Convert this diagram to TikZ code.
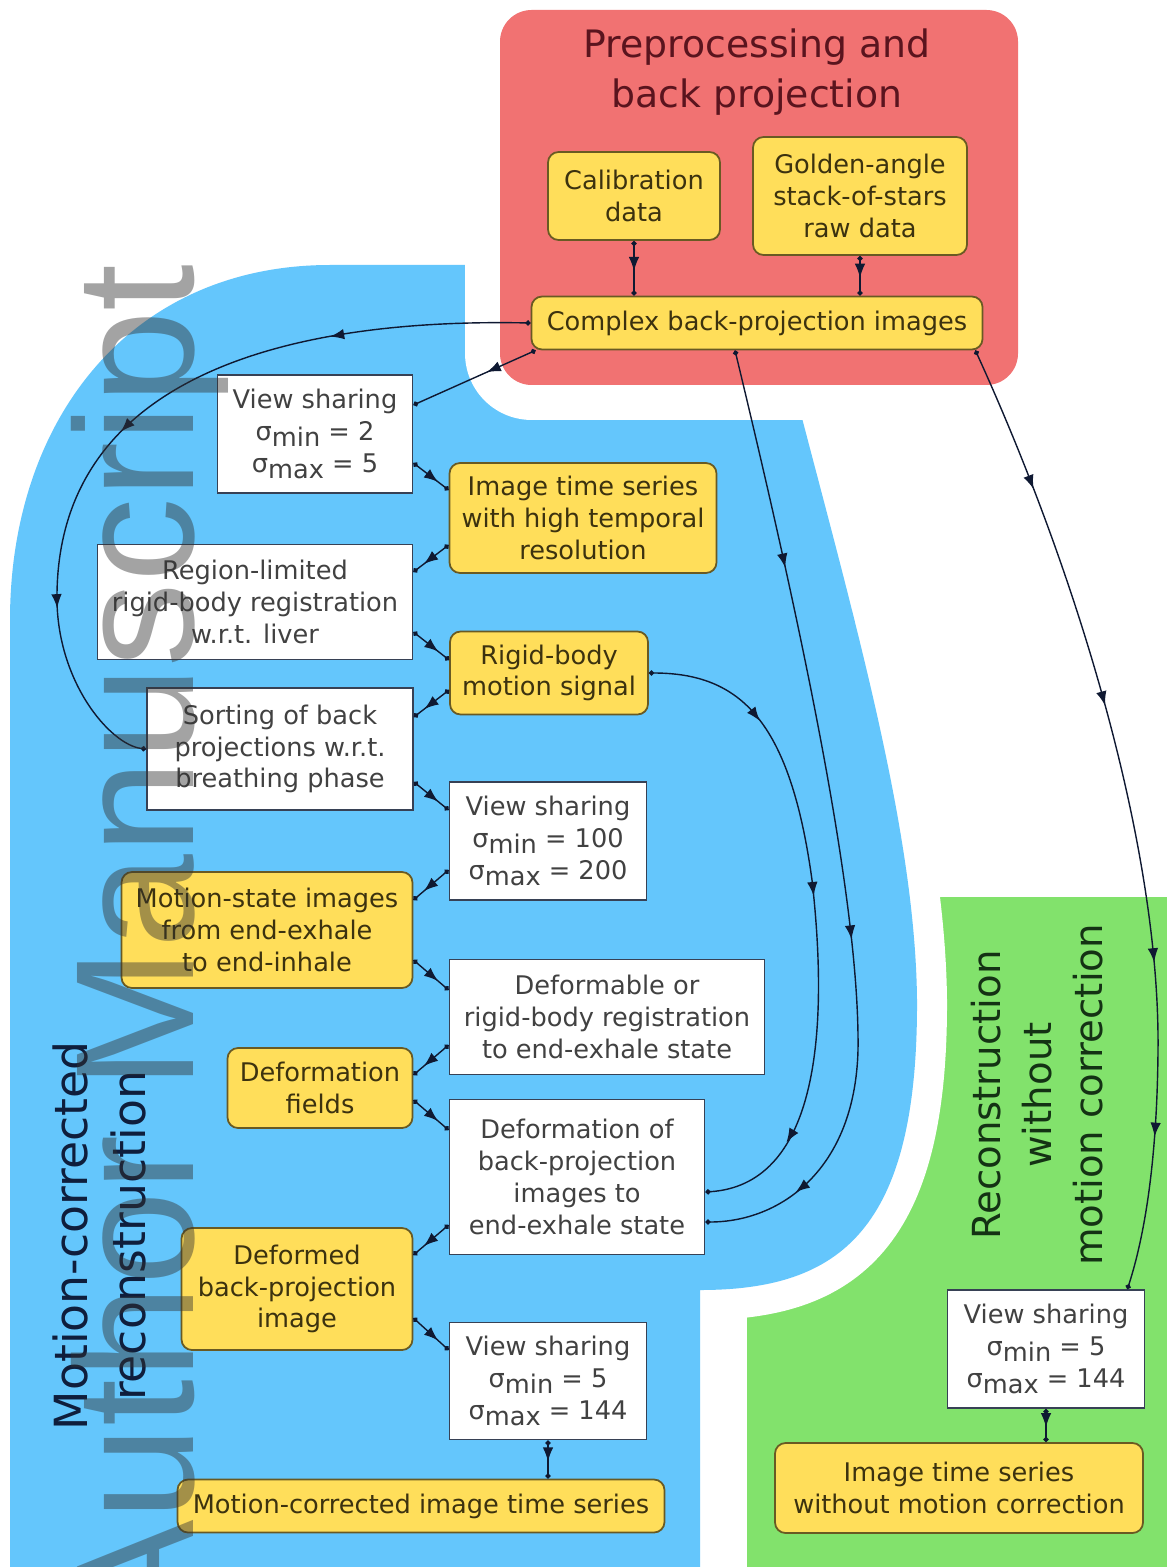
\documentclass[tikz,border=0pt]{standalone}
\usepackage{fontspec}
\setmainfont{DejaVu Sans}
\newfontfamily\wmfont{Liberation Sans}
\usetikzlibrary{arrows.meta,calc,decorations.markings}

\definecolor{regred}{RGB}{241,114,114}
\definecolor{regblue}{RGB}{100,198,252}
\definecolor{reggreen}{RGB}{130,226,108}
\definecolor{boxyellow}{RGB}{255,222,90}
\definecolor{yellowline}{RGB}{105,90,35}
\definecolor{whiteline}{RGB}{55,65,85}
\definecolor{ytext}{RGB}{60,50,15}
\definecolor{wtext}{RGB}{65,65,65}
\definecolor{arrowcol}{RGB}{15,25,50}

\newcommand{\boxfont}{\fontsize{14.6}{18.1}\selectfont}
\newcommand{\sgm}[1]{σ\raisebox{-0.4ex}{#1}}

\tikzset{
  sz/.style 2 args={minimum width=#1*0.02cm, minimum height=#2*0.02cm},
  ybox/.style={draw=yellowline, fill=boxyellow, line width=1pt, rounded corners=6pt,
    align=center, inner sep=0pt, text=ytext, font=\boxfont},
  wbox/.style={draw=whiteline, fill=white, line width=1pt,
    align=center, inner sep=0pt, text=wtext, font=\boxfont},
  flow/.style={draw=arrowcol, line width=0.8pt, {Circle[length=3pt]}-{Circle[length=3pt]}},
  midarrow/.style={postaction={decorate, decoration={markings,
    mark=at position #1 with {\arrow{Latex[length=8pt,width=6pt]}}}}},
}

\begin{document}
\begin{tikzpicture}[x=0.02cm, y=-0.02cm]

% Page frame
\useasboundingbox (0,0) rectangle (1167,1567);
\clip (0,0) rectangle (1167,1567);

% Parameters
\def\bluegap{1.2cm}
\def\redgap{1.4cm}

% Regions
\fill[reggreen] (747,897) rectangle (1167,1567);
\fill[regblue, preaction={draw=white, line width=\bluegap, line join=round}]
  (10,1590) -- (10,620) .. controls (10,420) and (130,265) .. (330,265)
  -- (763,265) .. controls (830,540) and (915,800) .. (917,1000)
  .. controls (918,1230) and (840,1290) .. (700,1290) -- (700,1590) -- cycle;
\fill[regred, rounded corners=18pt, preaction={draw=white, line width=\redgap, line join=round}]
  (500,10) rectangle (1018,385);

% Titles
\node[align=center, text={rgb,255:red,90;green,20;blue,30}, font=\fontsize{21.5}{28.3}\selectfont]
  (pretitle) at (757,72) {Preprocessing and\\back projection};
\node[rotate=90, align=center, text={rgb,255:red,15;green,30;blue,60}, font=\fontsize{26}{33}\selectfont]
  (mctitle) at (99,1236) {Motion-corrected\\reconstruction};
\node[rotate=90, align=center, text={rgb,255:red,20;green,50;blue,20}, font=\fontsize{22}{29}\selectfont]
  (nomctitle) at (1037,1095) {Reconstruction\\without\\motion correction};

% Preprocessing
\node[ybox, sz={172}{88}] (calib) at (634,196) {Calibration\\data};
\node[ybox, sz={214}{118}] (golden) at (860,196) {Golden-angle\\stack-of-stars\\raw data};
\node[ybox, sz={451}{53}] (complex) at (757,323) {Complex back-projection images};

% Motion-corrected reconstruction
\node[wbox, sz={195}{118}] (vs1) at (315,434) {View sharing\\\sgm{min} = 2\\\sgm{max} = 5};
\node[ybox, sz={267}{110}] (its) at (583,518) {Image time series\\with high temporal\\resolution};
\node[wbox, sz={315}{115}] (reg) at (255,602) {Region-limited\\rigid-body registration\\w.r.t. liver};
\node[ybox, sz={198}{83}] (rbs) at (549,673) {Rigid-body\\motion signal};
\node[wbox, sz={266}{122}] (sort) at (280,749) {Sorting of back\\projections w.r.t.\\breathing phase};
\node[wbox, sz={197}{118}] (vs2) at (548,841) {View sharing\\\sgm{min} = 100\\\sgm{max} = 200};
\node[ybox, sz={291}{116}] (mstate) at (267,930) {Motion-state images\\from end-exhale\\to end-inhale};
\node[wbox, sz={315}{115}] (defreg) at (607,1017) {Deformable or\\rigid-body registration\\to end-exhale state};
\node[ybox, sz={185}{80}] (dfield) at (320,1088) {Deformation\\fields};
\node[wbox, sz={255}{155}] (deform) at (577,1177) {Deformation of\\back-projection\\images to\\end-exhale state};
\node[ybox, sz={231}{122}] (defimg) at (297,1289) {Deformed\\back-projection\\image};
\node[wbox, sz={197}{117}] (vs3) at (548,1381) {View sharing\\\sgm{min} = 5\\\sgm{max} = 144};
\node[ybox, sz={487}{53}] (mcseries) at (421,1506) {Motion-corrected image time series};

% Reconstruction without motion correction
\node[wbox, sz={197}{118}] (vs4) at (1046,1349) {View sharing\\\sgm{min} = 5\\\sgm{max} = 144};
\node[ybox, sz={368}{90}] (plain) at (959,1488) {Image time series\\without motion correction};

% Short connectors
\draw[flow, midarrow=0.55] (calib.south) -- (calib.south |- complex.north);
\draw[flow, midarrow=0.55] (golden.south) -- (golden.south |- complex.north);
\draw[flow, midarrow=0.4] ($(complex.south west)+(5,0)$) -- ($(vs1.east)+(0,-29)$);
\draw[flow, midarrow=0.7] ($(vs1.east)+(0,29)$) -- ($(its.west)+(0,-28)$);
\draw[flow, midarrow=0.7] ($(its.west)+(0,27)$) -- ($(reg.east)+(0,-30)$);
\draw[flow, midarrow=0.7] ($(reg.east)+(0,30)$) -- ($(rbs.west)+(0,-13)$);
\draw[flow, midarrow=0.7] ($(rbs.west)+(0,17)$) -- ($(sort.east)+(0,-32)$);
\draw[flow, midarrow=0.7] ($(sort.east)+(0,33)$) -- ($(vs2.west)+(0,-31)$);
\draw[flow, midarrow=0.7] ($(vs2.west)+(0,29)$) -- ($(mstate.east)+(0,-30)$);
\draw[flow, midarrow=0.7] ($(mstate.east)+(0,30)$) -- ($(defreg.west)+(0,-27)$);
\draw[flow, midarrow=0.7] ($(defreg.west)+(0,28)$) -- ($(dfield.east)+(0,-13)$);
\draw[flow, midarrow=0.7] ($(dfield.east)+(0,12)$) -- ($(deform.west)+(0,-47)$);
\draw[flow, midarrow=0.7] ($(deform.west)+(0,48)$) -- ($(defimg.east)+(0,-34)$);
\draw[flow, midarrow=0.7] ($(defimg.east)+(0,29)$) -- ($(vs3.west)+(0,-31)$);
\draw[flow, midarrow=0.55] (vs3.south) -- (vs3.south |- mcseries.north);
\draw[flow, midarrow=0.55] (vs4.south) -- (vs4.south |- plain.north);

% Long connectors
\draw[flow, midarrow=0.25, midarrow=0.54, midarrow=0.78] (complex.west)
  .. controls (280,318) and (60,380) .. (57,593)
  .. controls (55,680) and (110,745) .. (sort.west);
\draw[flow, midarrow=0.23, midarrow=0.62, midarrow=0.9] ($(complex.south)+(-22,0)$)
  .. controls (800,620) and (860,900) .. (858,1050)
  .. controls (855,1170) and (780,1222) .. ($(deform.east)+(0,45)$);
\draw[flow, midarrow=0.19, midarrow=0.47, midarrow=0.85] (rbs.east)
  .. controls (740,673) and (790,720) .. (812,880)
  .. controls (830,1040) and (815,1185) .. ($(deform.east)+(0,15)$);
\draw[flow, midarrow=0.155, midarrow=0.39, midarrow=0.66, midarrow=0.84] ($(complex.south east)+(-8,0)$)
  .. controls (1080,580) and (1160,850) .. (1158,1050)
  .. controls (1157,1180) and (1140,1250) .. ($(vs4.north east)+(-18,0)$);

% Watermark
\node[rotate=90, anchor=base west, inner sep=0pt, text=black!80, text opacity=0.45,
  font=\wmfont\fontsize{96}{96}\selectfont] (watermark) at (193,1633) {Author Manuscript};

\end{tikzpicture}
\end{document}
